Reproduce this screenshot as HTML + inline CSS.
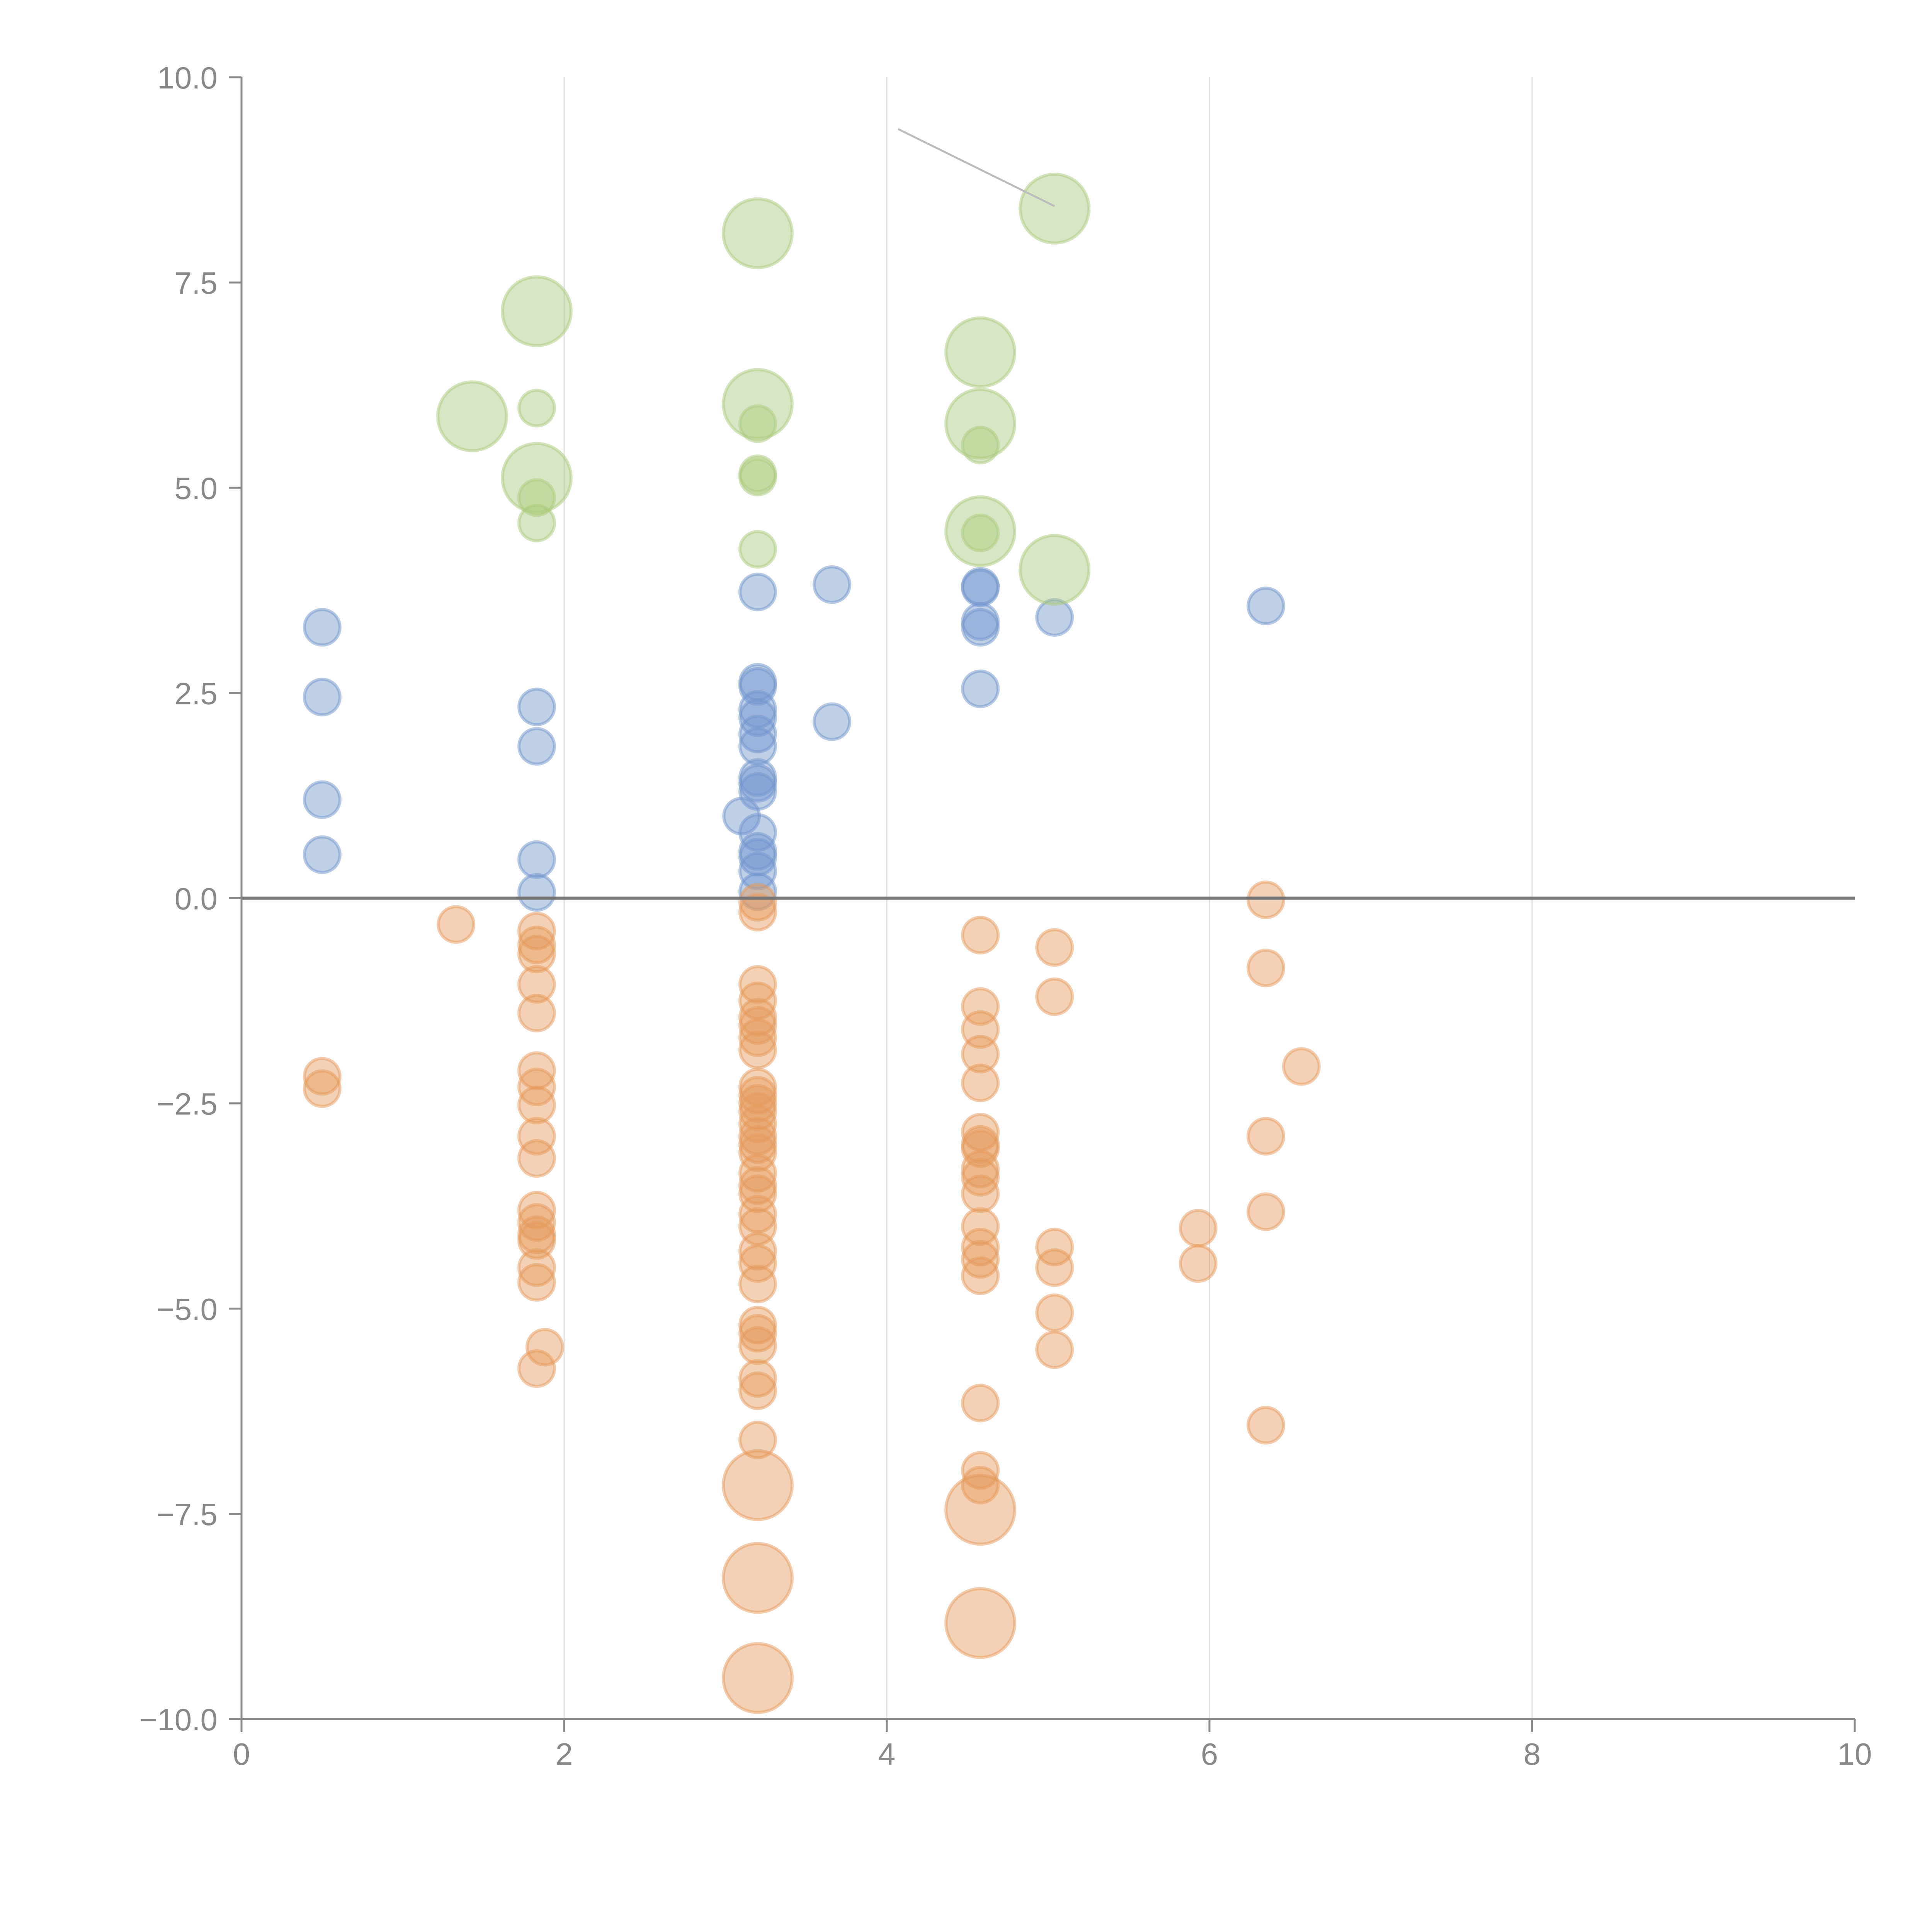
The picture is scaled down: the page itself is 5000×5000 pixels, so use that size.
<!DOCTYPE html>
<html><head><meta charset="utf-8"><style>
html,body{margin:0;padding:0;background:#fff}
svg{display:block}
text{font-family:"Liberation Sans",sans-serif;fill:#888;font-size:80px}
</style></head><body>
<svg id="chart" width="5000" height="5000" viewBox="0 0 5000 5000" xmlns="http://www.w3.org/2000/svg">
<g id="grid"></g>
<g id="points"></g>
<g id="axes"></g>
</svg>
<script>
const xTicks=[0,2,4,6,8,10];
const yTicks=[10,7.5,5,2.5,0,-2.5,-5,-7.5,-10];
const yTickLabels=["10.0","7.5","5.0","2.5","0.0","\u22122.5","\u22125.0","\u22127.5","\u221210.0"];
const blueX=[0.5,0.5,0.5,0.5,1.83,1.83,1.83,1.83,3.2,3.2,3.2,3.2,3.2,3.2,3.2,3.2,3.2,3.2,3.1,3.2,3.2,3.2,3.2,3.2,3.66,3.66,4.58,4.58,4.58,4.58,4.58,5.04,6.35];
const blueY=[3.3,2.45,1.2,0.53,2.33,1.85,0.47,0.07,3.73,2.63,2.58,2.3,2.2,2.0,1.85,1.47,1.4,1.3,1.0,0.8,0.57,0.5,0.33,0.08,3.82,2.15,3.8,3.78,3.37,3.3,2.55,3.42,3.56];
const greenX=[1.43,1.83,1.83,3.2,3.2,4.58,4.58,4.58,5.04,5.04,1.83,1.83,1.83,3.2,3.2,3.2,3.2,4.58,4.58];
const greenY=[5.87,7.15,5.12,8.1,6.02,6.65,5.78,4.47,8.4,4.0,5.97,4.88,4.57,5.78,5.17,5.13,4.25,5.52,4.45];
const greenBig=[1,1,1,1,1,1,1,1,1,1,0,0,0,0,0,0,0,0,0];
const orangeX=[1.33,0.5,0.5,1.83,1.83,1.83,1.83,1.83,1.83,1.83,1.83,1.83,1.83,1.83,1.83,1.83,1.83,1.83,1.83,1.88,1.83,
3.2,3.2,3.2,3.2,3.2,3.2,3.2,3.2,3.2,3.2,3.2,3.2,3.2,3.2,3.2,3.2,3.2,3.2,3.2,3.2,3.2,3.2,3.2,3.2,3.2,3.2,3.2,3.2,3.2,3.2,
3.2,3.2,3.2,4.58,4.58,
4.58,4.58,4.58,4.58,4.58,4.58,4.58,4.58,4.58,4.58,4.58,4.58,4.58,4.58,4.58,4.58,4.58,4.58,
5.04,5.04,5.04,5.04,5.04,5.04,5.93,5.93,6.35,6.35,6.35,6.35,6.35,6.57];
const orangeY=[-0.32,-2.17,-2.32,-0.4,-0.57,-0.68,-1.05,-1.4,-2.1,-2.3,-2.52,-2.9,-3.17,-3.8,-3.95,-4.1,-4.17,-4.5,-4.68,-5.47,-5.73,
-0.05,-0.17,-1.05,-1.25,-1.45,-1.55,-1.7,-1.85,-2.3,-2.4,-2.5,-2.6,-2.75,-2.9,-3.0,-3.1,-3.35,-3.5,-3.6,-3.85,-4.0,-4.3,-4.45,-4.7,-5.2,-5.3,-5.45,-5.85,-6.0,-6.6,
-7.15,-8.28,-9.5,-7.45,-8.83,
-0.45,-1.32,-1.6,-1.9,-2.25,-2.85,-3.0,-3.05,-3.3,-3.4,-3.6,-4.0,-4.25,-4.4,-4.6,-6.15,-6.97,-7.15,
-0.6,-1.2,-4.25,-4.5,-5.05,-5.5,-4.02,-4.45,-0.02,-0.85,-2.9,-3.82,-6.42,-2.05];
const orangeBig=orangeY.map((v,i)=>(i>=51&&i<=55)?1:0);

const NS="http://www.w3.org/2000/svg";
const X0=625,X1=4800,Y0=4449,Y1=200;
const sx=v=>X0+(v-0)/(10-0)*(X1-X0);
const sy=v=>Y0-(v+10)/20*(Y0-Y1);
function mk(tag,attrs,parent){const e=document.createElementNS(NS,tag);for(const k in attrs)e.setAttribute(k,attrs[k]);parent.appendChild(e);return e;}
const grid=document.getElementById('grid'),pts=document.getElementById('points'),axes=document.getElementById('axes');
xTicks.forEach(t=>{if(t===0||t===10)return;
 const l=mk('line',{x1:sx(t),x2:sx(t),y1:Y1,y2:Y0,stroke:'#ddd','stroke-width':3},grid);
 
 });
function series(xs,ys,big,col,name){
 xs.forEach((x,i)=>{
  const c=mk('circle',{cx:sx(x),cy:sy(ys[i]),r:big&&big[i]?89:46,fill:col,'fill-opacity':0.45,stroke:col,'stroke-opacity':0.5,'stroke-width':8},pts);
  
  
 });}
series(blueX,blueY,null,'#6f95cc','blue-point');
series(orangeX,orangeY,orangeBig,'#e59a5c','orange-point');
series(greenX,greenY,greenBig,'#a9c97a','green-point');
const ann=mk('line',{x1:sx(4.07),y1:sy(9.37),x2:sx(5.04),y2:sy(8.43),stroke:'#bbb','stroke-width':5},axes);


const zl=mk('line',{x1:X0,x2:X1,y1:sy(0),y2:sy(0),stroke:'#777','stroke-width':8},axes);


const ya=mk('line',{x1:X0,x2:X0,y1:Y1,y2:Y0,stroke:'#888','stroke-width':5},axes);


const xa=mk('line',{x1:X0,x2:X1,y1:Y0,y2:Y0,stroke:'#888','stroke-width':5},axes);


yTicks.forEach((t,i)=>{
 const tk=mk('line',{x1:X0-33,x2:X0,y1:sy(t),y2:sy(t),stroke:'#888','stroke-width':5},axes);
 
 
 const tx=mk('text',{x:X0-62,y:sy(t)+29,'text-anchor':'end'},axes);
 tx.textContent=yTickLabels[i];
 
 });
xTicks.forEach(t=>{
 const tk=mk('line',{x1:sx(t),x2:sx(t),y1:Y0,y2:Y0+33,stroke:'#888','stroke-width':5},axes);
 
 
 const tx=mk('text',{x:sx(t),y:Y0+118,'text-anchor':'middle'},axes);
 tx.textContent=String(t);
 
 });
</script>
</body></html>
